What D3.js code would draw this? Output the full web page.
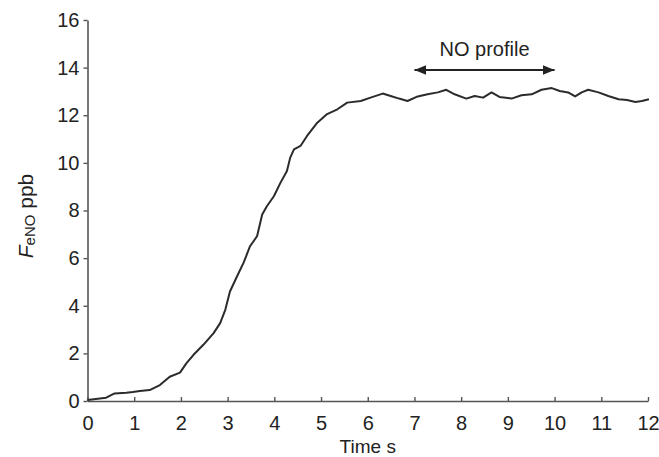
<!DOCTYPE html>
<html>
<head>
<meta charset="utf-8">
<script src="https://cdn.jsdelivr.net/npm/d3@7"></script>
<style>
  body { margin: 0; background: #fff; }
  svg { display: block; font-family: "Liberation Sans", Arial, sans-serif; }
</style>
</head>
<body>
<div id="app"></div>
<script>
`use strict`;

// exhaled NO trace
const timeS = [0, 0.40, 0.58, 0.83, 0.97, 1.12, 1.33, 1.55, 1.76, 1.98, 2.12, 2.27, 2.48, 2.70, 2.84, 2.95, 3.05, 3.20, 3.34, 3.48, 3.63, 3.74, 3.84, 3.99, 4.13, 4.27, 4.34, 4.42, 4.56, 4.70, 4.92, 5.13, 5.35, 5.56, 5.85, 6.06, 6.32, 6.49, 6.67, 6.85, 7.07, 7.28, 7.50, 7.68, 7.86, 8.11, 8.29, 8.47, 8.65, 8.82, 9.08, 9.29, 9.51, 9.72, 9.94, 10.11, 10.29, 10.44, 10.58, 10.72, 10.94, 11.15, 11.37, 11.55, 11.73, 11.87, 12.02];
const feno = [0.04, 0.14, 0.32, 0.35, 0.38, 0.42, 0.46, 0.67, 1.02, 1.19, 1.59, 1.94, 2.36, 2.85, 3.27, 3.83, 4.60, 5.23, 5.80, 6.50, 6.92, 7.83, 8.18, 8.60, 9.16, 9.66, 10.22, 10.57, 10.71, 11.13, 11.69, 12.05, 12.25, 12.53, 12.60, 12.74, 12.91, 12.81, 12.70, 12.60, 12.79, 12.88, 12.96, 13.07, 12.88, 12.70, 12.81, 12.74, 12.96, 12.77, 12.70, 12.84, 12.88, 13.07, 13.14, 13.02, 12.96, 12.79, 12.96, 13.07, 12.96, 12.81, 12.67, 12.64, 12.56, 12.60, 12.67];

const xTicks = [0, 1, 2, 3, 4, 5, 6, 7, 8, 9, 10, 11, 12];
const yTicks = [0, 2, 4, 6, 8, 10, 12, 14, 16];

const profileSpan = [7, 10];
const profileLevel = 13.9;
const profileLabel = `NO profile`;

const W = 659, H = 457;

let svg = d3.select(`#app`).append(`svg`).attr(`width`, W).attr(`height`, H);

let x = d3.scaleLinear().domain([0, 12]).range([87.5, 648]);
let y = d3.scaleLinear().domain([0, 16]).range([401, 20]);

// axes
let xAxis = svg.append(`g`).attr(`transform`, `translate(0,${y(0)})`)
  .call(d3.axisBottom(x).tickValues(xTicks).tickSizeInner(-4).tickSizeOuter(0).tickPadding(15).tickFormat(d3.format(`d`)));

let yAxis = svg.append(`g`).attr(`transform`, `translate(${x(0)},0)`)
  .call(d3.axisLeft(y).tickValues(yTicks).tickSizeInner(4).tickSizeOuter(0).tickPadding(4).tickFormat(d3.format(`d`)));

[xAxis, yAxis].forEach(G => {
  G.select(`.domain`).attr(`stroke`, `#555`).attr(`stroke-width`, 1.6);
  G.selectAll(`.tick line`).attr(`stroke`, `#555`).attr(`stroke-width`, 1.4);
  G.selectAll(`.tick text`).attr(`fill`, `#222`).style(`font-size`, `20px`).style(`font-family`, `"Liberation Sans", Arial, sans-serif`);
});

// trace
let Pts = timeS.map((t, i) => [t, feno[i]]);

svg.append(`path`).datum(Pts)
  .attr(`d`, d3.line().x(S => x(S[0])).y(S => y(S[1])).curve(d3.curveLinear))
  .attr(`fill`, `none`)
  .attr(`stroke`, `#2b2b2b`)
  .attr(`stroke-width`, 2)
  .attr(`stroke-linejoin`, `round`);

// double arrow for the profile window
let defs = svg.append(`defs`);

defs.append(`marker`).attr(`id`, `head`).attr(`viewBox`, `0 0 12 10`)
  .attr(`refX`, 12).attr(`refY`, 5).attr(`markerWidth`, 12).attr(`markerHeight`, 10)
  .attr(`markerUnits`, `userSpaceOnUse`).attr(`orient`, `auto-start-reverse`)
  .append(`path`).attr(`d`, `M0,0L12,5L0,10Z`).attr(`fill`, `#222`);

svg.append(`line`)
  .attr(`x1`, x(profileSpan[0])).attr(`x2`, x(profileSpan[1]))
  .attr(`y1`, y(profileLevel)).attr(`y2`, y(profileLevel))
  .attr(`stroke`, `#222`).attr(`stroke-width`, 2)
  .attr(`marker-start`, `url(#head)`).attr(`marker-end`, `url(#head)`);

svg.append(`text`)
  .attr(`x`, x((profileSpan[0] + profileSpan[1]) / 2)).attr(`y`, y(profileLevel) - 14)
  .attr(`text-anchor`, `middle`).attr(`fill`, `#222`).style(`font-size`, `20px`)
  .text(profileLabel);

// axis titles
svg.append(`text`)
  .attr(`x`, (x(0) + x(12)) / 2).attr(`y`, 453)
  .attr(`text-anchor`, `middle`).attr(`fill`, `#222`).style(`font-size`, `19px`)
  .text(`Time s`);

let yTitle = svg.append(`text`)
  .attr(`transform`, `translate(33,216) rotate(-90)`)
  .attr(`text-anchor`, `middle`).attr(`fill`, `#222`).style(`font-size`, `21px`);

yTitle.append(`tspan`).style(`font-style`, `italic`).text(`F`);
yTitle.append(`tspan`).style(`font-size`, `15px`).attr(`dy`, 2).text(`eNO`);
yTitle.append(`tspan`).attr(`dy`, -2).text(` ppb`);
</script>
</body>
</html>
